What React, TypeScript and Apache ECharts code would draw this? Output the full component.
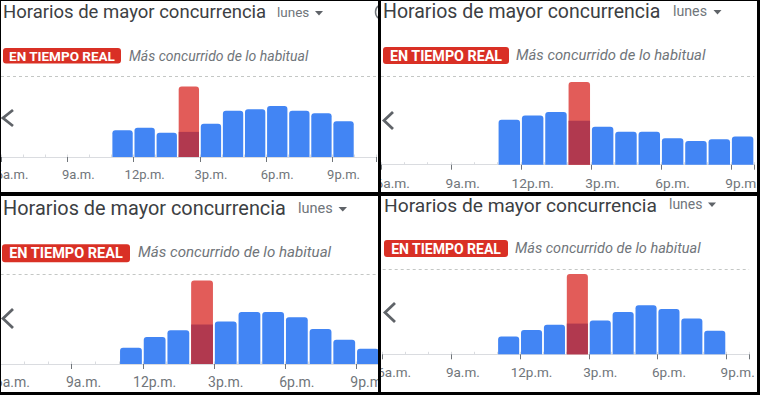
import React, { useEffect, useRef } from "react";
import * as echarts from "echarts";

// ---------- data ----------
const hoursLong = ["6a.m.", "7a.m.", "8a.m.", "9a.m.", "10a.m.", "11a.m.", "12p.m.", "1p.m.", "2p.m.", "3p.m.", "4p.m.", "5p.m.", "6p.m.", "7p.m.", "8p.m.", "9p.m.", "10p.m."];
const hoursShort = hoursLong.slice(0, 16);

const titleText = "Horarios de mayor concurrencia";
const dayText = "lunes";
const badgeText = "EN TIEMPO REAL";
const statusText = "Más concurrido de lo habitual";

const liveIndex = 8; // 2p.m.

const usual1 = [null, null, null, null, null, 33, 36, 30, 31, 41, 57, 59, 63, 57, 54, 44, null];
const live1 = 87;
const usual2 = [null, null, null, null, null, 51, 56, 60, 50, 43, 37.5, 37.5, 30, 27, 29, 32];
const live2 = 94;
const usual3 = [null, null, null, null, null, 18, 30, 37.5, 44, 47.5, 58, 58, 52, 39, 27, 17];
const live3 = 93;
const usual4 = [null, null, null, null, null, 21, 28.5, 34.5, 36, 39.5, 49.5, 57.5, 53, 42, 27.5, null];
const live4 = 94;

// ---------- styles / layout ----------
const BLUE = "#4285f4";
const LIVE = "#e25c59";
const DARK = "#b1394f";
const BADGE = "#d93025";
const GRAY = "#70757a";
const FONT = "Roboto";

const panels = [
  {
    clip: { x: 1, y: 1, w: 376.5, h: 191 },
    cats: hoursLong, usual: usual1, live: live1,
    left: 1, hour: 22.1, top: 76, height: 81, labelFs: 13,
    title: { x: 3, y: 11.5, fs: 18.5 },
    day: { x: 277, y: 11.5, fs: 13.5 }, tri: { x: 315, y: 11, w: 8, h: 4.5 },
    badge: { x: 3, y: 48, w: 118, h: 15.5, fs: 13.5 },
    status: { x: 129, y: 55.5, fs: 14 },
    chevron: [[13, 110], [3, 118], [13, 126]],
    info: true,
  },
  {
    clip: { x: 381, y: 1, w: 376, h: 191 },
    cats: hoursShort, usual: usual2, live: live2,
    left: 381, hour: 23.33, top: 76.7, height: 88, labelFs: 13.7,
    title: { x: 383, y: 11.5, fs: 19.5 },
    day: { x: 673, y: 11, fs: 14.2 }, tri: { x: 713.5, y: 10, w: 8, h: 4.5 },
    badge: { x: 383, y: 47, w: 126, h: 17, fs: 14.3 },
    status: { x: 516, y: 54.5, fs: 14.8 },
    chevron: [[393, 112], [384, 120.5], [393, 129]],
    info: false,
  },
  {
    clip: { x: 1, y: 196, w: 376.5, h: 196 },
    cats: hoursShort, usual: usual3, live: live3,
    left: 0.6, hour: 23.7, top: 274.3, height: 89.7, labelFs: 14,
    title: { x: 3, y: 208.5, fs: 19.9 },
    day: { x: 298, y: 208, fs: 14.5 }, tri: { x: 338.5, y: 207, w: 8.5, h: 4.5 },
    badge: { x: 2, y: 244.3, w: 128, h: 18, fs: 14.5 },
    status: { x: 138, y: 252, fs: 15.1 },
    chevron: [[13, 309], [3, 318.5], [13, 328]],
    info: false,
  },
  {
    clip: { x: 381, y: 196, w: 376, h: 196 },
    cats: hoursShort, usual: usual4, live: live4,
    left: 382.7, hour: 22.9, top: 269, height: 85.3, labelFs: 13.5,
    title: { x: 384, y: 205.5, fs: 19.2 },
    day: { x: 669, y: 204, fs: 14 }, tri: { x: 708, y: 202.5, w: 8, h: 4.5 },
    badge: { x: 384, y: 240, w: 124, h: 17, fs: 14 },
    status: { x: 515, y: 248, fs: 14.5 },
    chevron: [[395, 303], [385, 312.5], [395, 322]],
    info: false,
  },
];

type Panel = (typeof panels)[number];

function buildOption(p: Panel) {
  const graphic: any[] = [];

  graphic.push({
    type: "text", x: p.title.x, y: p.title.y, z: 10,
    style: { text: titleText, fill: "#3c4043", fontSize: p.title.fs, fontFamily: FONT, align: "left", verticalAlign: "middle" },
  });
  graphic.push({
    type: "text", x: p.day.x, y: p.day.y, z: 10,
    style: { text: dayText, fill: GRAY, fontSize: p.day.fs, fontFamily: FONT, align: "left", verticalAlign: "middle" },
  });
  graphic.push({
    type: "polygon", z: 10,
    shape: { points: [[p.tri.x, p.tri.y], [p.tri.x + p.tri.w, p.tri.y], [p.tri.x + p.tri.w / 2, p.tri.y + p.tri.h]] },
    style: { fill: "#5f6368" },
  });
  graphic.push({
    type: "rect", z: 10,
    shape: { x: p.badge.x, y: p.badge.y, width: p.badge.w, height: p.badge.h, r: 3 },
    style: { fill: BADGE },
  });
  graphic.push({
    type: "text", x: p.badge.x + p.badge.w / 2, y: p.badge.y + p.badge.h / 2 + 0.5, z: 11,
    style: { text: badgeText, fill: "#ffffff", fontSize: p.badge.fs, fontWeight: "bold", fontFamily: FONT, align: "center", verticalAlign: "middle" },
  });
  graphic.push({
    type: "text", x: p.status.x, y: p.status.y, z: 10,
    style: { text: statusText, fill: GRAY, fontSize: p.status.fs, fontStyle: "italic", fontFamily: FONT, align: "left", verticalAlign: "middle" },
  });
  graphic.push({
    type: "polyline", z: 10,
    shape: { points: p.chevron },
    style: { stroke: "#5f6368", lineWidth: 2.8, fill: null, lineCap: "butt", lineJoin: "miter" },
  });
  if (p.info) {
    graphic.push({
      type: "arc", z: 10,
      shape: { cx: 383, cy: 12, r: 7.5, startAngle: Math.PI * 0.62, endAngle: Math.PI * 1.38 },
      style: { stroke: GRAY, lineWidth: 1.5, fill: null },
    });
  }

  return {
    animation: false,
    backgroundColor: "#ffffff",
    grid: [{
      left: p.left, top: p.top, width: p.hour * p.cats.length, height: p.height,
      containLabel: false, outerBoundsMode: "none",
    }],
    xAxis: [
      {
        type: "category", gridIndex: 0, position: "bottom", data: p.cats, boundaryGap: true,
        axisLine: { show: true, lineStyle: { color: "#dadce0", width: 1 } },
        axisTick: { show: true, interval: 0, inside: true, length: 2.5, lineStyle: { color: "#dadce0" } },
        axisLabel: { show: false }, splitLine: { show: false },
      },
      {
        type: "category", gridIndex: 0, position: "bottom", data: p.cats, boundaryGap: true,
        axisLine: { show: false },
        axisTick: { show: true, interval: 2, length: 5, lineStyle: { color: GRAY } },
        axisLabel: { show: true, interval: 2, color: GRAY, fontSize: p.labelFs, fontFamily: FONT, margin: 11, hideOverlap: false },
        splitLine: { show: false },
      },
    ],
    yAxis: [{
      type: "value", gridIndex: 0, min: 0, max: 100,
      axisLine: { show: false }, axisTick: { show: false }, axisLabel: { show: false }, splitLine: { show: false },
    }],
    series: [
      {
        type: "bar", xAxisIndex: 0, yAxisIndex: 0, barGap: "-100%", barCategoryGap: "8%",
        data: p.cats.map((_, j) => (j === liveIndex ? p.live : null)),
        itemStyle: { color: LIVE, borderRadius: [3, 3, 0, 0] },
        markLine: {
          silent: true, symbol: "none", label: { show: false },
          lineStyle: { color: "#c4c7c5", type: [3, 3], width: 1 },
          data: [{ yAxis: 100 }],
        },
      },
      {
        type: "bar", xAxisIndex: 0, yAxisIndex: 0, barGap: "-100%", barCategoryGap: "8%",
        data: p.usual.map((v, j) => (j === liveIndex ? { value: v, itemStyle: { color: DARK, borderRadius: 0 } } : v)),
        itemStyle: { color: BLUE, borderRadius: [3, 3, 0, 0] },
      },
    ],
    graphic,
  };
}

function PanelChart({ p }: { p: Panel }) {
  const ref = useRef<HTMLDivElement>(null);
  useEffect(() => {
    if (!ref.current) return;
    const chart = echarts.init(ref.current, undefined, { renderer: "svg" });
    chart.setOption(buildOption(p) as any);
    return () => chart.dispose();
  }, [p]);
  return (
    <div
      style={{
        position: "absolute", left: p.clip.x, top: p.clip.y, width: p.clip.w, height: p.clip.h,
        overflow: "hidden", background: "#fff",
      }}
    >
      <div ref={ref} style={{ position: "absolute", left: -p.clip.x, top: -p.clip.y, width: 760, height: 395 }} />
    </div>
  );
}

export default function App() {
  return (
    <div style={{ position: "absolute", left: 0, top: 0, width: 760, height: 395, background: "#000", overflow: "hidden" }}>
      {panels.map((p, i) => (
        <PanelChart key={i} p={p} />
      ))}
    </div>
  );
}
